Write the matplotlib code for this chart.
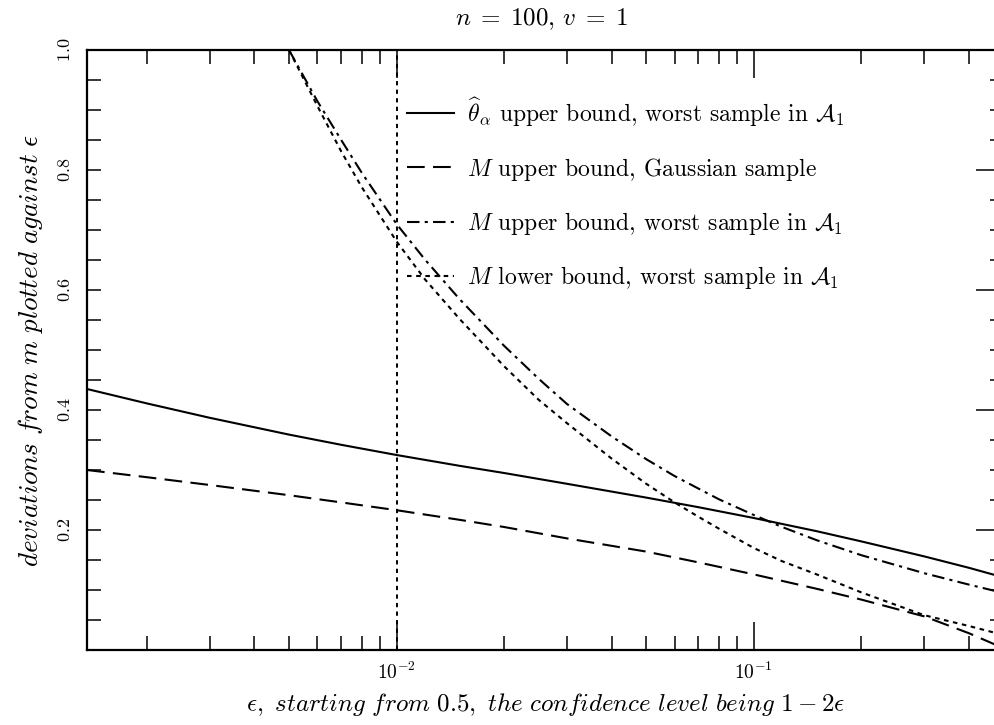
import numpy as np
import matplotlib
matplotlib.use('Agg')
import matplotlib.pyplot as plt
from matplotlib.ticker import MultipleLocator, FixedLocator, LogLocator, NullFormatter

plt.rcParams['font.family'] = 'serif'
plt.rcParams['font.serif'] = ['cmr10']
plt.rcParams['mathtext.fontset'] = 'cm'
plt.rcParams['axes.formatter.use_mathtext'] = True

# epsilon grid (x axis, log scale)
eps = [0.00136, 0.002, 0.003, 0.005, 0.007, 0.01, 0.015, 0.02, 0.03,
       0.05, 0.07, 0.1, 0.15, 0.2, 0.3, 0.4, 0.5]

# theta_alpha upper bound, worst sample in A1
theta_upper = [0.435, 0.411, 0.387, 0.359, 0.342, 0.325, 0.307, 0.295, 0.277,
               0.254, 0.238, 0.220, 0.198, 0.181, 0.156, 0.137, 0.121]
# M upper bound, Gaussian sample
m_upper_gauss = [0.300, 0.288, 0.275, 0.258, 0.246, 0.233, 0.217, 0.205, 0.186,
                 0.164, 0.146, 0.126, 0.102, 0.084, 0.056, 0.028, 0.003]

# worst sample curves: finer grid, they start at eps = 0.005 (above that they leave the plot)
eps_worst = [0.005, 0.006, 0.007, 0.008, 0.01, 0.012, 0.015, 0.02, 0.025, 0.03,
             0.04, 0.05, 0.06, 0.07, 0.08, 0.1, 0.12, 0.15, 0.2, 0.3, 0.4, 0.5]
m_upper_worst = [1.000, 0.915, 0.850, 0.795, 0.710, 0.651, 0.585, 0.507, 0.452, 0.410,
                 0.356, 0.318, 0.290, 0.269, 0.251, 0.225, 0.205, 0.183, 0.158, 0.128,
                 0.109, 0.095]
m_lower_worst = [1.000, 0.907, 0.831, 0.771, 0.681, 0.618, 0.552, 0.473, 0.417, 0.378,
                 0.319, 0.277, 0.246, 0.222, 0.202, 0.170, 0.148, 0.126, 0.096, 0.058,
                 0.040, 0.025]

eps_mark = 0.01
x_range = (0.00136, 0.5)
y_range = (0.0, 1.0)
y_ticks = [0.2, 0.4, 0.6, 0.8, 1.0]

labels = [r'$\widehat{\theta}_\alpha$ upper bound, worst sample in $\mathcal{A}_1$',
          r'$M$ upper bound, Gaussian sample',
          r'$M$ upper bound, worst sample in $\mathcal{A}_1$',
          r'$M$ lower bound, worst sample in $\mathcal{A}_1$']

fig = plt.figure(figsize=(9.95, 7.25), dpi=100)
# axes run a little past the right edge of the picture, like the original
ax = fig.add_axes([87/995, 75/725, 916.5/995, 600/725])

lw = 1.5
ax.plot(eps, theta_upper, color='k', lw=lw, ls='-', label=labels[0])
ax.plot(eps, m_upper_gauss, color='k', lw=lw, ls=(0, (8.5, 4)), label=labels[1])
ax.plot(eps_worst, m_upper_worst, color='k', lw=lw, ls=(0, (6, 2.5, 1.5, 2.5)), label=labels[2])
ax.plot(eps_worst, m_lower_worst, color='k', lw=lw, ls=(0, (2.2, 2.2)), label=labels[3])
ax.axvline(eps_mark, color='k', lw=1.4, ls=(0, (2.2, 2.2)))

ax.set_xscale('log')
ax.set_xlim(*x_range)
ax.set_ylim(*y_range)

ax.xaxis.set_major_locator(LogLocator(base=10))
ax.xaxis.set_minor_locator(LogLocator(base=10, subs=np.arange(2, 10)))
ax.xaxis.set_minor_formatter(NullFormatter())
ax.yaxis.set_major_locator(FixedLocator(y_ticks))
ax.yaxis.set_minor_locator(MultipleLocator(0.05))

ax.tick_params(axis='x', which='both', direction='in', top=True, width=1.1, labelsize=14, pad=8)
ax.tick_params(axis='x', which='major', length=20)
ax.tick_params(axis='x', which='minor', length=10)
ax.tick_params(axis='y', which='both', direction='in', right=False, length=10, width=1.1,
               labelsize=13, pad=10)
for t in ax.get_yticklabels():
    t.set_rotation(90)
    t.set_va('center')

# right side ticks are longer on the 0.2 steps
sec = ax.secondary_yaxis('right')
sec.yaxis.set_major_locator(MultipleLocator(0.2))
sec.yaxis.set_minor_locator(MultipleLocator(0.05))
sec.tick_params(which='both', direction='in', width=1.1, labelright=False)
sec.tick_params(which='major', length=20)
sec.tick_params(which='minor', length=10)

for s in ax.spines.values():
    s.set_linewidth(1.6)
sec.spines['right'].set_linewidth(1.6)

ax.set_xlabel(r'$\epsilon\mathit{,\ starting\ from\ }0.5\mathit{,\ the\ confidence\ level\ being\ }1-2\epsilon$',
              fontsize=18, labelpad=6)
ax.set_ylabel(r'$\mathit{deviations\ from\ m\ plotted\ against}\ \epsilon$', fontsize=19.5, labelpad=9)
fig.text(541/995, 1 - 19/725, r'$n\;=\;100,\,v\;=\;1$', fontsize=18, ha='center', va='center')

ax.legend(loc='upper left', bbox_to_anchor=(0.349, 0.925), frameon=False, fontsize=17,
          borderaxespad=0, borderpad=0, handlelength=2.0, handletextpad=0.55, labelspacing=1.15)

fig.savefig('out.png', dpi=100)
